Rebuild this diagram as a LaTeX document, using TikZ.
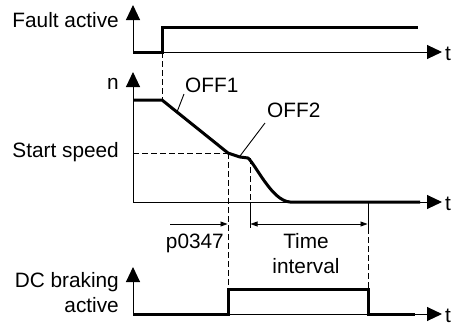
\documentclass[tikz,border=0pt]{standalone}
\usepackage{fontspec}
\setmainfont{Liberation Sans}
\usetikzlibrary{arrows.meta}
\begin{document}
\begin{tikzpicture}[x=1pt,y=-1pt,
  axis/.style={line width=1pt,-{Triangle[length=15pt,width=14pt]}},
  sig/.style={line width=3pt, line join=miter},
  dsh/.style={line width=0.8pt, dash pattern=on 6pt off 3pt},
  thinline/.style={line width=0.9pt},
  dim/.style={line width=0.8pt, -{Triangle[length=7pt,width=5pt]}},
  dimboth/.style={line width=0.8pt, {Triangle[length=7pt,width=5pt]}-{Triangle[length=7pt,width=5pt]}},
  lbl/.style={inner sep=0pt, font=\fontsize{20.8}{24}\selectfont},
]
\useasboundingbox (0,0) rectangle (452,327);
% coordinates
\coordinate (fo) at (133,52);
\coordinate (fy) at (133,5);
\coordinate (fx) at (442,52);
\coordinate (so) at (133,202);
\coordinate (sy) at (133,72);
\coordinate (sx) at (442,202);
\coordinate (bo) at (133,314);
\coordinate (by) at (133,267);
\coordinate (bx) at (442,314);

% axes
\draw[axis] (fo) -- (fy);
\draw[axis] (fo) -- (fx);
\draw[axis] (so) -- (sy);
\draw[axis] (so) -- (sx);
\draw[axis] (bo) -- (by);
\draw[axis] (bo) -- (bx);

% fault signal
\coordinate (f1) at (162,52);
\coordinate (f2) at (162,27);
\coordinate (f3) at (418,27);
\draw[sig] (fo) -- (f1) -- (f2) -- (f3);

% speed curve
\coordinate (s0) at (133,100);
\coordinate (s1) at (162,100);
\coordinate (s2) at (228,153);
\coordinate (s3) at (240,157);
\coordinate (s4) at (248,158);
\coordinate (s5) at (290,202);
\coordinate (s6) at (420,202);
\draw[sig, line join=round] (s0) -- (s1) -- (s2) -- (s3) -- (s4) .. controls (256,165) and (272,201) .. (s5) -- (s6);

% dashed helpers
\draw[dsh] (f1) -- (s1);
\coordinate (ss) at (133,153);
\draw[dsh] (ss) -- (s2);
\coordinate (d1) at (228,290);
\draw[dsh] (s2) -- (d1);
\coordinate (e0) at (250,158);
\coordinate (e1) at (250,202);
\coordinate (e2) at (250,228);
\draw[dsh] (e0) -- (e1);
\draw[thinline] (e1) -- (e2);
\coordinate (g1) at (368,202);
\coordinate (g2) at (368,228);
\coordinate (g3) at (368,290);
\draw[thinline] (g1) -- (g2);
\draw[dsh] (g2) -- (g3);

% DC braking signal
\coordinate (b1) at (228,314);
\coordinate (b2) at (228,289);
\coordinate (b3) at (368,289);
\coordinate (b4) at (368,314);
\coordinate (b5) at (415,314);
\draw[sig] (bo) -- (b1) -- (b2) -- (b3) -- (b4) -- (b5);

% dimension arrows
\coordinate (p0) at (170,224);
\coordinate (p1) at (227.5,224);
\draw[dim] (p0) -- (p1);
\coordinate (t0) at (250.5,224);
\coordinate (t1) at (367.5,224);
\draw[dimboth] (t0) -- (t1);

% leaders
\coordinate (o1a) at (177,112);
\coordinate (o1b) at (184,94);
\draw[thinline] (o1a) -- (o1b);
\coordinate (o2a) at (240,156);
\coordinate (o2b) at (265,123);
\draw[thinline] (o2a) -- (o2b);

% labels
\node[lbl, anchor=base east] (lfault) at (119,27) {Fault active};
\node[lbl, anchor=base east] (ln) at (119,89) {n};
\node[lbl, anchor=base east] (lstart) at (119,157) {Start speed};
\node[lbl, anchor=base east] (ldc1) at (119,287) {DC braking};
\node[lbl, anchor=base east] (ldc2) at (119,312) {active};
\node[lbl, anchor=base west] (loff1) at (185,92) {OFF1};
\node[lbl, anchor=base west] (loff2) at (267,117) {OFF2};
\node[lbl, anchor=base east] (lp) at (224,248) {p0347};
\node[lbl, anchor=base] (lt1) at (306,248) {Time};
\node[lbl, anchor=base] (lt2) at (306,273) {interval};
\node[lbl, anchor=base west] (tx1) at (445,60) {t};
\node[lbl, anchor=base west] (tx2) at (445,210) {t};
\node[lbl, anchor=base west] (tx3) at (445,322) {t};
\end{tikzpicture}
\end{document}
